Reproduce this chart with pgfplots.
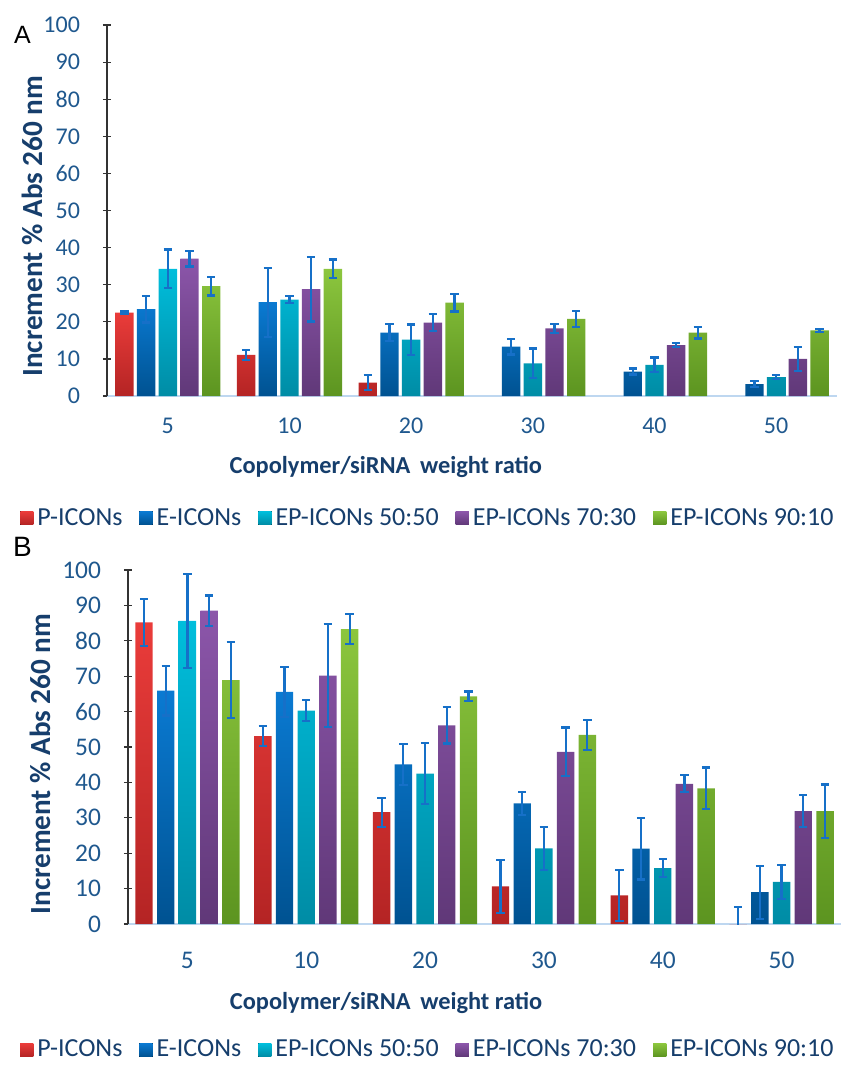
\documentclass[border=0pt]{standalone}
\usepackage{fontspec}
\setmainfont{Carlito}
\newfontfamily\arialfont{Liberation Sans}
\usepackage{pgfplots}
\pgfplotsset{compat=1.18}
\definecolor{redT}{RGB}{234,60,58}
\definecolor{redB}{RGB}{180,36,36}
\definecolor{bluT}{RGB}{10,122,210}
\definecolor{bluB}{RGB}{0,82,145}
\definecolor{cyaT}{RGB}{0,190,220}
\definecolor{cyaB}{RGB}{0,140,165}
\definecolor{purT}{RGB}{140,86,170}
\definecolor{purB}{RGB}{96,56,120}
\definecolor{greT}{RGB}{140,198,62}
\definecolor{greB}{RGB}{92,148,32}
\definecolor{errblue}{RGB}{22,112,200}
\definecolor{tickblue}{RGB}{31,88,142}
\definecolor{labnavy}{RGB}{22,62,108}
\definecolor{xaxcol}{RGB}{190,215,240}
\pgfplotsset{
  barP/.style={top color=redT, bottom color=redB, draw=none},
  barE/.style={top color=bluT, bottom color=bluB, draw=none},
  barC/.style={top color=cyaT, bottom color=cyaB, draw=none},
  barV/.style={top color=purT, bottom color=purB, draw=none},
  barG/.style={top color=greT, bottom color=greB, draw=none},
  sqlegend/.style={legend image code/.code={\fill[##1] (0pt,-3.3pt) rectangle (6.6pt,3.3pt);}},
  myaxis/.style={
    scale only axis,
    xmin=-0.5, xmax=5.5, ymin=0, ymax=100,
    xtick={0,1,2,3,4,5}, xticklabels={5,10,20,30,40,50},
    ytick={0,10,...,100},
    axis lines=left,
    axis line style={-},
    x axis line style={draw=xaxcol, line width=1pt},
    y axis line style={draw=black!80, line width=0.6pt},
    xtick style={draw=none},
    ytick style={draw=black!80, line width=0.6pt},
    tick align=center, major tick length=4pt,
    /pgf/number format/assume math mode=true,
    tick label style={text=tickblue},
    yticklabel style={anchor=east, xshift=-8pt},
    xlabel={Copolymer/siRNA\, weight ratio},
    ylabel={Increment \% Abs 260 nm},
    legend columns=5,
    legend style={draw=none, fill=none, font=\fontsize{13}{15}\selectfont, text=labnavy,
      /tikz/every even column/.append style={column sep=6.5pt}},
    error bars/y dir=both, error bars/y explicit,
    error bars/error bar style={line width=1.1pt, color=errblue},
    error bars/error mark options={rotate=90, mark size=2.1pt, line width=1.1pt, color=errblue},
  },
}
\begin{document}
\begin{tikzpicture}
\path[use as bounding box] (0pt,0pt) rectangle (428.5pt,-536pt);
\node[font=\arialfont\fontsize{12.5}{14}\selectfont, anchor=center] at (11.25pt,-17.2pt) {A};
\node[font=\arialfont\fontsize{14}{16}\selectfont, anchor=center] at (11.25pt,-273.5pt) {B};
% Panel A
\begin{axis}[myaxis,
  at={(53.5pt,-198pt)}, anchor=south west,
  width=365pt, height=185.5pt,
  ybar=1.65pt, bar width=9.2pt, sqlegend,
  tick label style={font=\fontsize{12}{14}\selectfont},
  xticklabel style={yshift=-3.4pt},
  every axis x label/.style={at={(axis description cs:0.382,-0.191)}, anchor=center, font=\bfseries\fontsize{12.2}{15}\selectfont, text=labnavy},
  every axis y label/.style={at={(axis description cs:0,0.458)}, xshift=-37.5pt, rotate=90, anchor=center, font=\bfseries\fontsize{14.6}{16}\selectfont, text=labnavy},
  legend style={at={(axis description cs:0.441,-0.329)}, anchor=center},
]
\addplot[barP] table[x=x,y=y,y error=e,row sep=\\] {x y e\\ 0 22.5 0.3\\ 1 11.1 1.4\\ 2 3.6 2.0\\};
\addplot[barE] table[x=x,y=y,y error=e,row sep=\\] {x y e\\ 0 23.4 3.6\\ 1 25.3 9.3\\ 2 17.1 2.3\\ 3 13.3 2.1\\ 4 6.6 0.8\\ 5 3.2 0.8\\};
\addplot[barC] table[x=x,y=y,y error=e,row sep=\\] {x y e\\ 0 34.3 5.2\\ 1 26.0 1.0\\ 2 15.2 4.1\\ 3 8.8 4.0\\ 4 8.4 2.0\\ 5 5.1 0.5\\};
\addplot[barV] table[x=x,y=y,y error=e,row sep=\\] {x y e\\ 0 37.0 2.1\\ 1 28.8 8.7\\ 2 19.8 2.3\\ 3 18.2 1.2\\ 4 13.7 0.5\\ 5 10.0 3.2\\};
\addplot[barG] table[x=x,y=y,y error=e,row sep=\\] {x y e\\ 0 29.6 2.5\\ 1 34.3 2.5\\ 2 25.2 2.4\\ 3 20.8 2.2\\ 4 17.1 1.6\\ 5 17.7 0.4\\};
\legend{P-ICONs,E-ICONs,EP-ICONs 50:50,EP-ICONs 70:30,EP-ICONs 90:10}
\end{axis}
% Panel B
\begin{axis}[myaxis,
  at={(64pt,-462pt)}, anchor=south west,
  width=356.5pt, height=177pt,
  ybar=2.15pt, bar width=8.7pt, sqlegend,
  tick label style={font=\fontsize{12.7}{14}\selectfont},
  xticklabel style={yshift=-6.6pt},
  every axis x label/.style={at={(axis description cs:0.362,-0.223)}, anchor=center, font=\bfseries\fontsize{12.2}{15}\selectfont, text=labnavy},
  every axis y label/.style={at={(axis description cs:0,0.452)}, xshift=-44pt, rotate=90, anchor=center, font=\bfseries\fontsize{14.6}{16}\selectfont, text=labnavy},
  legend style={at={(axis description cs:0.422,-0.356)}, anchor=center},
]
\addplot[barP] table[x=x,y=y,y error=e,row sep=\\] {x y e\\ 0 85.2 6.7\\ 1 53.1 2.9\\ 2 31.6 4.1\\ 3 10.6 7.5\\ 4 8.1 7.2\\ 5 0 4.7\\};
\addplot[barE] table[x=x,y=y,y error=e,row sep=\\] {x y e\\ 0 65.9 7.0\\ 1 65.6 7.1\\ 2 45.1 5.8\\ 3 34.1 3.3\\ 4 21.3 8.7\\ 5 9.0 7.5\\};
\addplot[barC] table[x=x,y=y,y error=e,row sep=\\] {x y e\\ 0 85.6 13.3\\ 1 60.3 2.9\\ 2 42.5 8.6\\ 3 21.4 6.1\\ 4 15.8 2.5\\ 5 11.9 4.8\\};
\addplot[barV] table[x=x,y=y,y error=e,row sep=\\] {x y e\\ 0 88.5 4.3\\ 1 70.2 14.6\\ 2 56.1 5.1\\ 3 48.6 6.9\\ 4 39.6 2.4\\ 5 31.9 4.6\\};
\addplot[barG] table[x=x,y=y,y error=e,row sep=\\] {x y e\\ 0 68.9 10.8\\ 1 83.3 4.3\\ 2 64.3 1.4\\ 3 53.4 4.2\\ 4 38.3 5.9\\ 5 31.9 7.5\\};
\legend{P-ICONs,E-ICONs,EP-ICONs 50:50,EP-ICONs 70:30,EP-ICONs 90:10}
\end{axis}
\end{tikzpicture}
\end{document}
